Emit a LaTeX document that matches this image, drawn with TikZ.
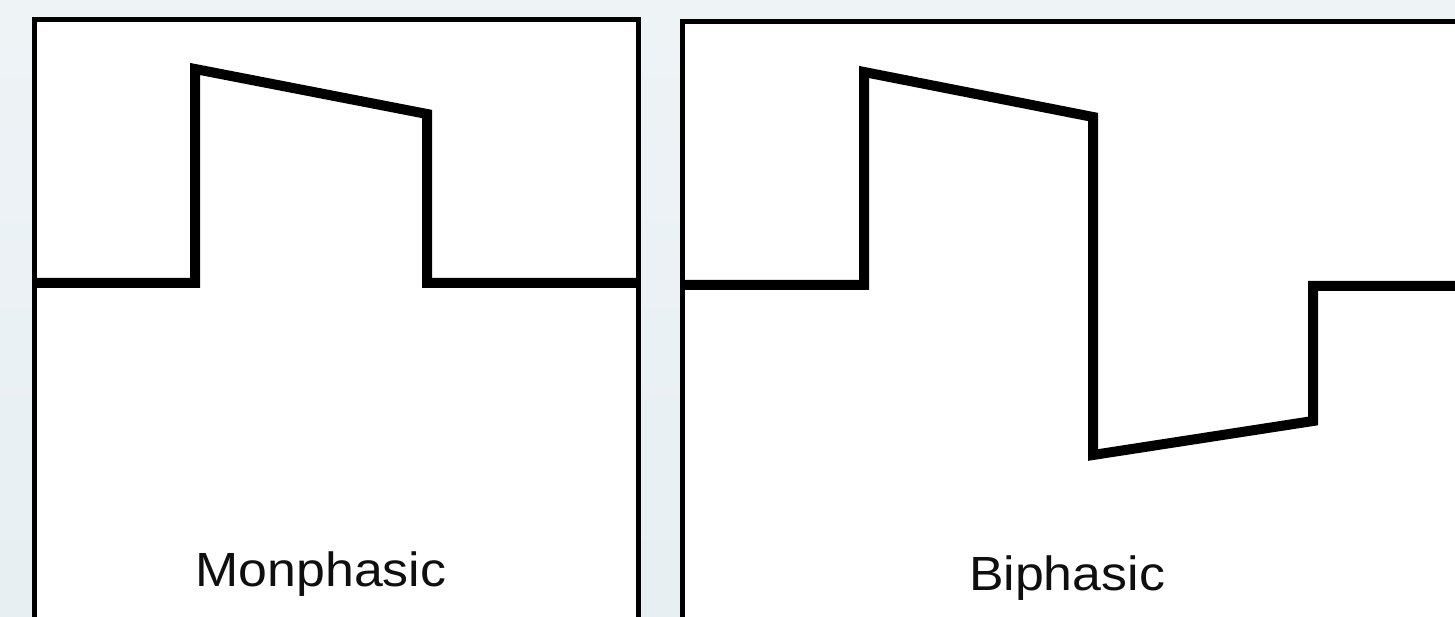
\documentclass[tikz,border=0pt]{standalone}
\usepackage{fontspec}
\setmainfont{Liberation Sans}
\definecolor{bgtop}{RGB}{238,243,246}
\definecolor{bgbot}{RGB}{231,239,242}
\definecolor{txt}{RGB}{15,15,15}
\begin{document}
\begin{tikzpicture}[x=1pt,y=-1pt,
  panel/.style={draw=black,line width=5pt,fill=white},
  wave/.style={draw=black,line width=10pt,line join=miter},
  lbl/.style={font=\fontsize{48}{48}\selectfont,text=txt,anchor=base,inner sep=0pt,xscale=1.08}]
\useasboundingbox (0,0) rectangle (1455,617);
\shade[top color=bgtop,bottom color=bgbot] (0,0) rectangle (1455,617);
% panels
\draw[panel] (34.5,630) -- (34.5,19.5) -- (638,19.5) -- (638,630);
\draw[panel] (682,630) -- (682,22) -- (1470,22);
\fill[white] (684.5,24.5) rectangle (1470,630);
% waves
\draw[wave] (37,283) -- (195,283) -- (195,69) -- (427,114) -- (427,283) -- (636,283);
\draw[wave] (684.5,285) -- (864,285) -- (864,72) -- (1093,117) -- (1093,455) -- (1313,421) -- (1313,286) -- (1460,286);
% labels
\node[lbl] (mono) at (321,586) {Monphasic};
\node[lbl] (bi) at (1067,590) {Biphasic};
\end{tikzpicture}
\end{document}
